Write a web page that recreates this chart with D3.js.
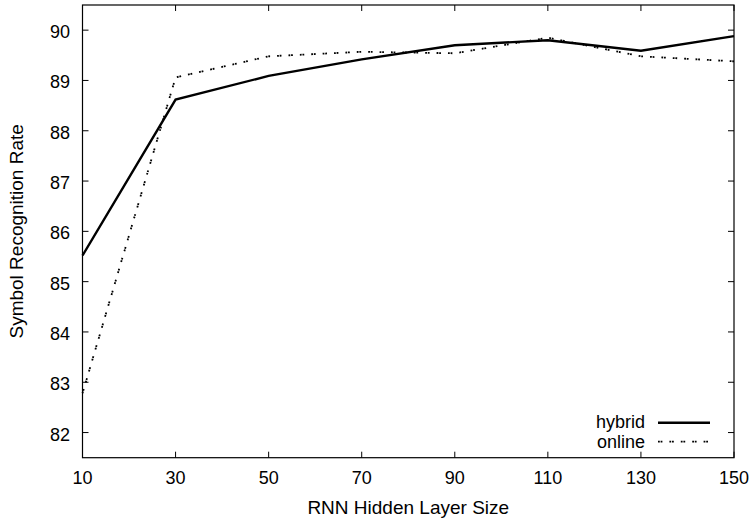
<!DOCTYPE html>
<html><head><meta charset="utf-8">
<script src="https://cdn.jsdelivr.net/npm/d3@7"></script>
<style>body{margin:0;background:#fff}svg{display:block}text{font-family:"Liberation Sans",Arial,sans-serif;fill:#000}</style>
</head><body><svg id="c" width="749" height="521"></svg>
<script>
const sizes = [10, 30, 50, 70, 90, 110, 130, 150];
const hybrid = [85.52, 88.62, 89.09, 89.42, 89.70, 89.80, 89.59, 89.88];
const online = [82.78, 89.06, 89.48, 89.57, 89.54, 89.85, 89.48, 89.38];
const xTicks = [10, 30, 50, 70, 90, 110, 130, 150];
const yTicks = [82, 83, 84, 85, 86, 87, 88, 89, 90];
const seriesNames = ["hybrid", "online"];

const svg = d3.select("#c");
const L = 82.5, R = 734, T = 5, B = 457.7;
const x = d3.scaleLinear().domain([10, 150]).range([L, R]);
const y = d3.scaleLinear().domain([81.5, 90.5]).range([B, T]);
const tl = 6;
const dots = "1.8,0.8,1.8,7";

const g = svg.append("g");
xTicks.forEach(v => {
  g.append("line").attr("x1", x(v)).attr("x2", x(v)).attr("y1", B).attr("y2", B - tl).attr("stroke", "#000");
  g.append("line").attr("x1", x(v)).attr("x2", x(v)).attr("y1", T).attr("y2", T + tl).attr("stroke", "#000");
  g.append("text").attr("x", x(v)).attr("y", 484.3).attr("text-anchor", "middle").attr("font-size", 18).text(v);
});
yTicks.forEach(v => {
  g.append("line").attr("x1", L).attr("x2", L + tl).attr("y1", y(v)).attr("y2", y(v)).attr("stroke", "#000");
  g.append("line").attr("x1", R).attr("x2", R - tl).attr("y1", y(v)).attr("y2", y(v)).attr("stroke", "#000");
  g.append("text").attr("x", 70).attr("y", y(v) + 8).attr("text-anchor", "end").attr("font-size", 18).text(v);
});

const line = d3.line().x((d, i) => x(sizes[i])).y(d => y(d));
svg.append("path").datum(hybrid).attr("d", line).attr("fill", "none").attr("stroke", "#000").attr("stroke-width", 2.4);
svg.append("path").datum(online).attr("d", line).attr("fill", "none").attr("stroke", "#000").attr("stroke-width", 1.8).attr("stroke-dasharray", dots);

svg.append("rect").attr("x", L).attr("y", T).attr("width", R - L).attr("height", B - T).attr("fill", "none").attr("stroke", "#000").attr("stroke-width", 1.2);

svg.append("text").attr("x", (L + R) / 2).attr("y", 514).attr("text-anchor", "middle").attr("font-size", 19).text("RNN Hidden Layer Size");
svg.append("text").attr("transform", `translate(23.3,${(T + B) / 2}) rotate(-90)`).attr("text-anchor", "middle").attr("font-size", 19).text("Symbol Recognition Rate");

const leg = [{name: seriesNames[0], w: 2.4, dash: null, ty: 428.3, ly: 422.7}, {name: seriesNames[1], w: 1.8, dash: dots, ty: 448.3, ly: 441.7}];
leg.forEach(d => {
  svg.append("text").attr("x", 645).attr("y", d.ty).attr("text-anchor", "end").attr("font-size", 18).text(d.name);
  const l = svg.append("line").attr("x1", 658).attr("x2", 710).attr("y1", d.ly).attr("y2", d.ly).attr("stroke", "#000").attr("stroke-width", d.w);
  if (d.dash) l.attr("stroke-dasharray", d.dash);
});
</script></body></html>
